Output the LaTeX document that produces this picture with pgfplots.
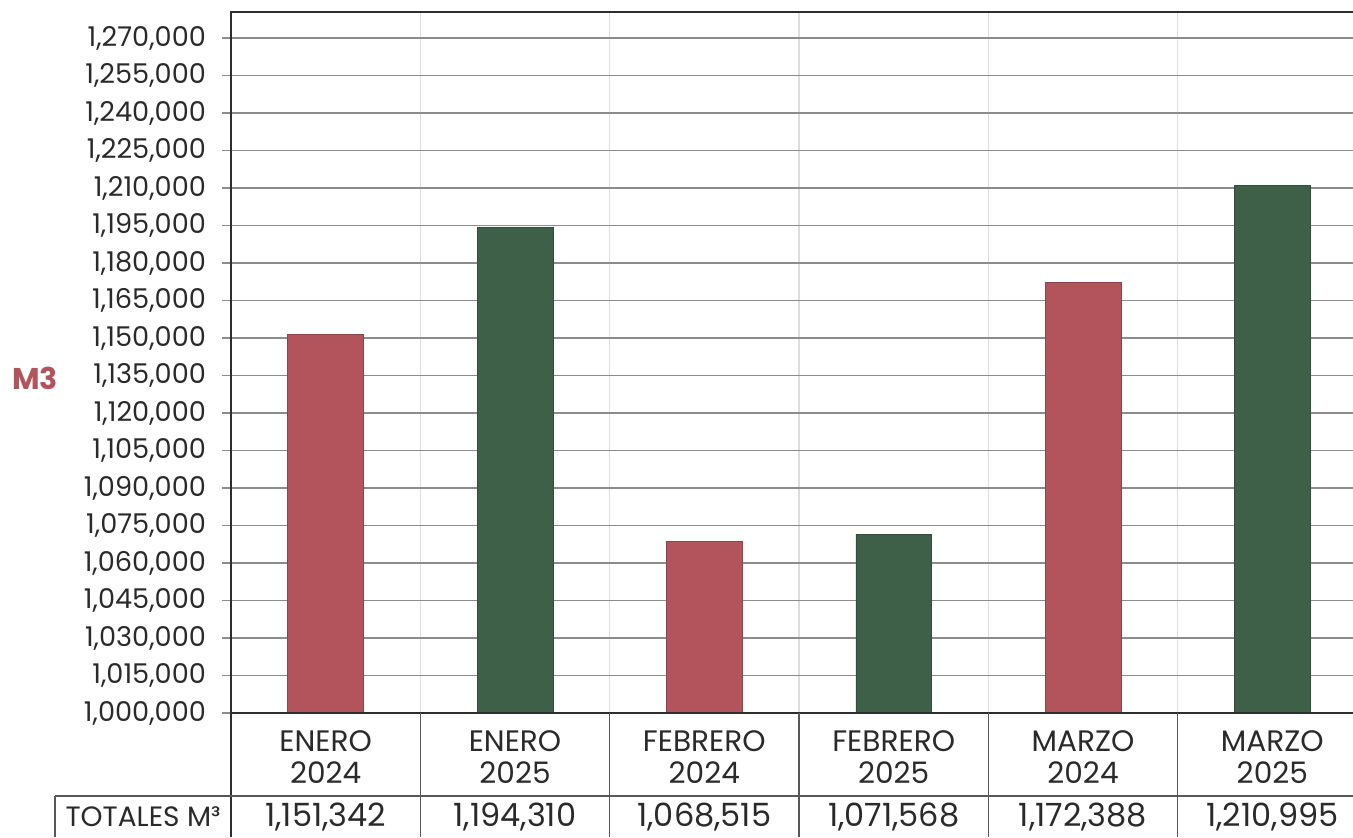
\documentclass[border=0pt]{standalone}
\usepackage{pgfplots}
\pgfplotsset{compat=1.18}
\usepackage{fontspec}
\setmainfont{Poppins}

\definecolor{rojo}{HTML}{B3545C}
\definecolor{verde}{HTML}{3F6048}
\definecolor{gridc}{HTML}{8C8C8C}
\definecolor{vgrid}{HTML}{DDDDDD}
\definecolor{linea}{HTML}{2E2E2E}
\definecolor{texto}{HTML}{2A2A2A}

\begin{document}
\begin{tikzpicture}
\useasboundingbox (-115.5pt,-62pt) rectangle (561pt,356.5pt);
\begin{axis}[
    at={(0,0)}, anchor=south west,
    scale only axis, width=561pt, height=350.5pt,
    xmin=-0.5, xmax=5.426,
    ymin=1000000, ymax=1280400,
    ytick={1000000,1015000,1030000,1045000,1060000,1075000,1090000,1105000,
           1120000,1135000,1150000,1165000,1180000,1195000,1210000,1225000,
           1240000,1255000,1270000},
    scaled y ticks=false,
    yticklabel style={/pgf/number format/fixed, /pgf/number format/1000 sep={,},
        /pgf/number format/precision=0, /pgf/number format/assume math mode=true,
        font=\fontsize{13.6}{14}\selectfont, text=texto, xshift=-4.5pt},
    xtick={0,1,2,3,4,5},
    xticklabels={{ENERO\\2024},{ENERO\\2025},{FEBRERO\\2024},{FEBRERO\\2025},{MARZO\\2024},{MARZO\\2025}},
    x tick label style={align=center, font=\fontsize{14.8}{16}\selectfont, text=texto, yshift=-1pt},
    minor xtick={0.5,1.5,2.5,3.5,4.5},
    xminorgrids, minor x grid style={vgrid, line width=0.6pt},
    ymajorgrids, major y grid style={gridc, line width=0.7pt},
    x tick style={draw=none},
    y tick style={gridc, line width=0.7pt},
    tick align=outside, major tick length=4.5pt,
    axis line style={draw=none},
    ybar, bar width=0.4, bar shift=0pt,
]
\addplot[fill=rojo, draw=rojo!80!black, line width=0.3pt]
    coordinates {(0,1151342) (2,1068515) (4,1172388)};
\addplot[fill=verde, draw=verde!80!black, line width=0.3pt]
    coordinates {(1,1194310) (3,1071568) (5,1210995)};
\end{axis}

% axis frame (left, top, bottom)
\draw[linea, line width=1.2pt] (0,0) -- (0,350.5pt);
\draw[linea, line width=1.2pt] (-0.6pt,350.5pt) -- (561pt,350.5pt);
\draw[linea, line width=1.2pt] (0,0) -- (561pt,0);

% table below the chart
\foreach \k in {1,...,5}
  \draw[linea!80, line width=0.7pt] ({\k*94.67pt},0) -- ({\k*94.67pt},-62pt);
\draw[linea, line width=0.9pt] (0,0) -- (0,-62pt);
\draw[linea!80, line width=0.7pt] (-88pt,-41.5pt) -- (561pt,-41.5pt);
\draw[linea!80, line width=0.7pt] (-88pt,-41.5pt) -- (-88pt,-62pt);
\node[text=texto, font=\fontsize{14}{15}\selectfont] at (-44pt,-52pt) {TOTALES M³};
\foreach \v [count=\i from 0] in {{1,151,342},{1,194,310},{1,068,515},{1,071,568},{1,172,388},{1,210,995}}
  \node[text=texto, font=\fontsize{16}{17}\selectfont] at ({(\i+0.5)*94.67pt},-52pt) {\v};

% axis title
\node[text=rojo, font=\bfseries\fontsize{15}{16}\selectfont] at (-98pt,167.5pt) {M3};
\end{tikzpicture}
\end{document}
